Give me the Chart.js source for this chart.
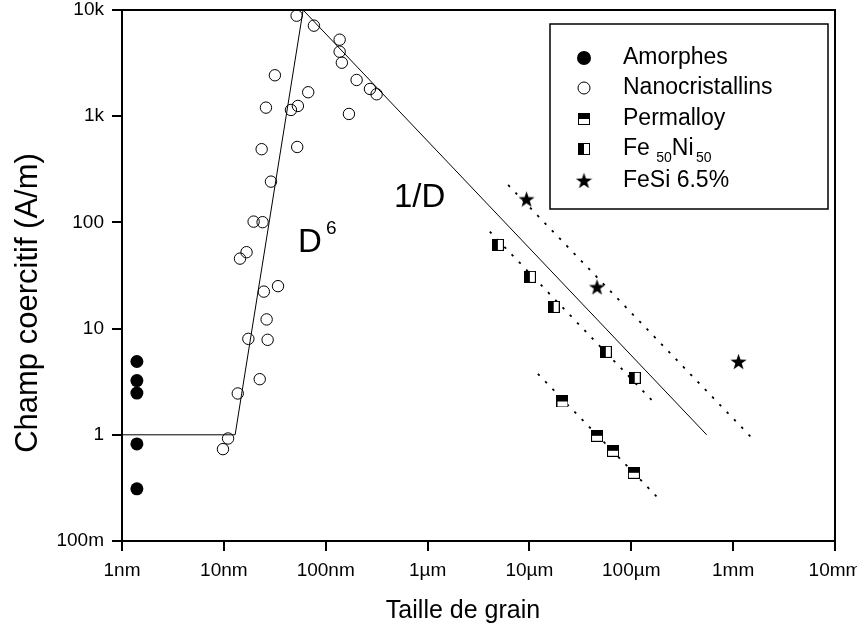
<!DOCTYPE html>
<html>
<head>
<meta charset="utf-8">
<script src="https://cdn.jsdelivr.net/npm/chart.js@4.4.0/dist/chart.umd.min.js"></script>
<style>
  html, body { margin: 0; padding: 0; background: #fff; }
  #wrap { width: 857px; height: 628px; }
</style>
</head>
<body>
<div id="wrap"><canvas id="chart" width="857" height="628"></canvas></div>
<script>
// Axis ticks: grain size in metres, coercive field in A/m
const xTickValues = [1e-9, 1e-8, 1e-7, 1e-6, 1e-5, 1e-4, 1e-3, 1e-2];
const xTickLabels = ["1nm", "10nm", "100nm", "1µm", "10µm", "100µm", "1mm", "10mm"];
const yTickValues = [0.1, 1, 10, 100, 1000, 10000];
const yTickLabels = ["100m", "1", "10", "100", "1k", "10k"];

// Amorphes
const amorphesX = [1.4e-9, 1.4e-9, 1.4e-9, 1.4e-9, 1.4e-9];
const amorphesY = [4.9, 3.24, 2.47, 0.82, 0.31];

// Nanocristallins
const nanoX = [5.18e-8, 7.66e-8, 1.37e-7, 1.37e-7, 1.44e-7, 2.01e-7, 2.72e-7, 3.16e-7, 1.69e-7,
               3.17e-8, 6.73e-8, 5.33e-8, 4.56e-8, 2.59e-8, 5.25e-8, 2.35e-8, 2.90e-8, 1.96e-8,
               2.40e-8, 1.44e-8, 1.67e-8, 2.47e-8, 3.40e-8, 2.63e-8, 2.69e-8, 1.74e-8, 2.25e-8,
               1.37e-8, 1.10e-8, 9.8e-9];
const nanoY = [8840, 7120, 5255, 4050, 3190, 2193, 1805, 1609, 1050,
               2429, 1681, 1249, 1145, 1204, 513, 489, 242, 101.7,
               100.5, 45.6, 52.4, 22.3, 25.1, 12.2, 7.84, 8.01, 3.34,
               2.45, 0.923, 0.733];

// Permalloy
const permX = [2.11e-5, 4.61e-5, 6.62e-5, 1.06e-4];
const permY = [2.06, 0.979, 0.707, 0.439];

// Fe50Ni50
const feniX = [4.90e-6, 1.01e-5, 1.73e-5, 5.62e-5, 1.08e-4];
const feniY = [61.4, 30.7, 16.0, 6.04, 3.44];

// FeSi 6.5%
const fesiX = [9.37e-6, 4.61e-5, 1.13e-3];
const fesiY = [166, 24.7, 4.9];

// Solid guide: plateau, D^6 rise, 1/D fall
const fitX = [1e-9, 1.29e-8, 6e-8, 5.5e-4];
const fitY = [1, 1, 10000, 1];

// Dotted 1/D trends through each bulk alloy
const fesiTrendX = [6.18e-6, 1.48e-3];
const fesiTrendY = [225, 0.964];
const feniTrendX = [4.08e-6, 1.58e-4];
const feniTrendY = [81.8, 2.13];
const permTrendX = [1.21e-5, 1.95e-4];
const permTrendY = [3.75, 0.239];

const FONT = "'Liberation Sans', Arial, sans-serif";

function pts(xs, ys) {
  return xs.map((x, i) => ({ x: x, y: ys[i] }));
}

// Half-filled square marker; split = "top" or "left"
function squareMarker(split) {
  const c = document.createElement("canvas");
  c.width = 12; c.height = 12;
  const g = c.getContext("2d");
  g.fillStyle = "#fff";
  g.fillRect(0.5, 0.5, 11, 11);
  g.fillStyle = "#000";
  if (split === "top") g.fillRect(0.5, 0.5, 11, 5.5);
  else g.fillRect(0.5, 0.5, 5.5, 11);
  g.strokeStyle = "#000";
  g.lineWidth = 1;
  g.strokeRect(0.5, 0.5, 11, 11);
  return c;
}

function starMarker(size) {
  const c = document.createElement("canvas");
  c.width = size; c.height = size;
  const g = c.getContext("2d");
  const cx = size / 2, cy = size / 2 + 0.8;
  const R = size / 2, r = R * 0.4;
  g.beginPath();
  for (let i = 0; i < 10; i++) {
    const ang = -Math.PI / 2 + i * Math.PI / 5;
    const rad = i % 2 === 0 ? R : r;
    const px = cx + rad * Math.cos(ang), py = cy + rad * Math.sin(ang);
    if (i === 0) g.moveTo(px, py); else g.lineTo(px, py);
  }
  g.closePath();
  g.fillStyle = "#000";
  g.fill();
  return c;
}

const permMark = squareMarker("top");
const feniMark = squareMarker("left");
const starMark = starMarker(17);

// Frame, titles, text labels and legend box
const decor = {
  id: "decor",
  afterDraw(chart) {
    const { ctx, chartArea: a } = chart;
    ctx.save();
    ctx.strokeStyle = "#000";
    ctx.lineWidth = 2;
    ctx.beginPath();
    ctx.moveTo(a.left, a.top);
    ctx.lineTo(a.right, a.top);
    ctx.lineTo(a.right, a.bottom);
    ctx.stroke();

    ctx.fillStyle = "#000";
    ctx.textBaseline = "alphabetic";

    // axis titles
    ctx.font = "25px " + FONT;
    ctx.textAlign = "center";
    ctx.fillText("Taille de grain", 463, 618);
    ctx.save();
    ctx.translate(37, 303);
    ctx.rotate(-Math.PI / 2);
    ctx.font = "31px " + FONT;
    ctx.fillText("Champ coercitif (A/m)", 0, 0);
    ctx.restore();

    // slope labels
    ctx.textAlign = "left";
    ctx.font = "33px " + FONT;
    ctx.fillText("D", 298, 252);
    ctx.fillText("1/D", 394, 207);
    ctx.font = "19px " + FONT;
    ctx.fillText("6", 326, 234);

    // legend
    ctx.lineWidth = 1.5;
    ctx.strokeRect(550, 24, 278, 185);
    const mx = 584, tx = 623;
    const rows = [58, 88, 119, 149, 181];
    ctx.font = "23px " + FONT;
    ctx.textBaseline = "middle";

    ctx.beginPath();
    ctx.arc(mx, rows[0], 7, 0, Math.PI * 2);
    ctx.fill();
    ctx.fillText("Amorphes", tx, rows[0]);

    ctx.beginPath();
    ctx.lineWidth = 1;
    ctx.arc(mx, rows[1], 6, 0, Math.PI * 2);
    ctx.stroke();
    ctx.fillText("Nanocristallins", tx, rows[1]);

    ctx.drawImage(permMark, mx - 6, rows[2] - 6);
    ctx.fillText("Permalloy", tx, rows[2]);

    ctx.drawImage(feniMark, mx - 6, rows[3] - 6);
    let x = tx;
    ctx.fillText("Fe ", x, rows[3]);
    x += ctx.measureText("Fe ").width;
    ctx.font = "14px " + FONT;
    ctx.fillText("50", x, rows[3] + 9);
    x += ctx.measureText("50").width;
    ctx.font = "23px " + FONT;
    ctx.fillText("Ni ", x, rows[3]);
    x += ctx.measureText("Ni ").width - 4;
    ctx.font = "14px " + FONT;
    ctx.fillText("50", x, rows[3] + 9);

    ctx.font = "23px " + FONT;
    ctx.drawImage(starMark, mx - 8.5, rows[4] - 9);
    ctx.fillText("FeSi 6.5%", tx, rows[4]);

    ctx.restore();
  }
};

const dotted = { borderColor: "#000", borderWidth: 1.8, borderDash: [2.5, 8], showLine: true, pointRadius: 0, fill: false };

new Chart(document.getElementById("chart"), {
  type: "scatter",
  data: {
    datasets: [
      { label: "Amorphes", data: pts(amorphesX, amorphesY), pointStyle: "circle", pointRadius: 6.5,
        backgroundColor: "#000", borderColor: "#000", borderWidth: 0 },
      { label: "Nanocristallins", data: pts(nanoX, nanoY), pointStyle: "circle", pointRadius: 5.7,
        backgroundColor: "rgba(0,0,0,0)", borderColor: "#000", borderWidth: 1 },
      { label: "Permalloy", data: pts(permX, permY), pointStyle: permMark },
      { label: "Fe50Ni50", data: pts(feniX, feniY), pointStyle: feniMark },
      { label: "FeSi 6.5%", data: pts(fesiX, fesiY), pointStyle: starMark },
      { label: "fit", data: pts(fitX, fitY), showLine: true, pointRadius: 0,
        borderColor: "#000", borderWidth: 1, fill: false },
      Object.assign({ label: "fesiTrend", data: pts(fesiTrendX, fesiTrendY) }, dotted),
      Object.assign({ label: "feniTrend", data: pts(feniTrendX, feniTrendY) }, dotted),
      Object.assign({ label: "permTrend", data: pts(permTrendX, permTrendY) }, dotted)
    ]
  },
  options: {
    responsive: false,
    animation: false,
    events: [],
    layout: { padding: { top: 10, right: 22, left: 0, bottom: 0 } },
    plugins: { legend: { display: false }, tooltip: { enabled: false } },
    scales: {
      x: {
        type: "logarithmic",
        min: 1e-9, max: 1e-2,
        afterBuildTicks: s => { s.ticks = xTickValues.map(v => ({ value: v })); },
        afterFit: s => { s.height = 87; s.paddingLeft = 0; s.paddingRight = 0; },
        ticks: {
          autoSkip: false, maxRotation: 0, padding: 8, color: "#000",
          font: { family: FONT, size: 19 },
          callback: (v, i) => xTickLabels[i]
        },
        grid: { drawOnChartArea: false, drawTicks: true, tickLength: 10, color: "#000", lineWidth: 2 },
        border: { display: true, color: "#000", width: 2 }
      },
      y: {
        type: "logarithmic",
        min: 0.1, max: 10000,
        afterBuildTicks: s => { s.ticks = yTickValues.map(v => ({ value: v })); },
        afterFit: s => { s.width = 122; s.paddingTop = 0; s.paddingBottom = 0; },
        ticks: {
          autoSkip: false, padding: 8, color: "#000",
          font: { family: FONT, size: 19 },
          callback: (v, i) => yTickLabels[i]
        },
        grid: { drawOnChartArea: false, drawTicks: true, tickLength: 10, color: "#000", lineWidth: 2 },
        border: { display: true, color: "#000", width: 2 }
      }
    }
  },
  plugins: [decor]
});
</script>
</body>
</html>
